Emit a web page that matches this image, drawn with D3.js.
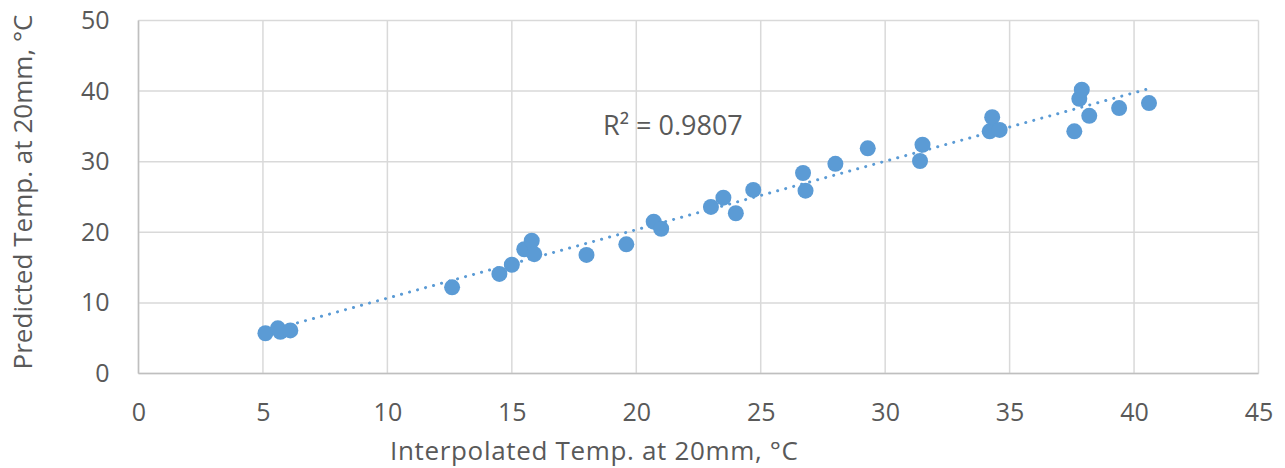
<!DOCTYPE html>
<html><head><meta charset="utf-8">
<script src="https://cdn.jsdelivr.net/npm/d3@7"></script>
<style>body{margin:0;background:#fff;} svg{display:block;}</style>
</head><body>
<svg id="chart" width="1285" height="468"></svg>
<script>
const xValues = [5.1,5.6,5.7,6.1,12.6,14.5,15.0,15.5,15.8,15.9,18.0,19.6,20.7,21.0,23.0,23.5,24.0,24.7,26.7,26.8,28.0,29.3,31.4,31.5,34.2,34.3,34.6,37.6,37.8,37.9,38.2,39.4,40.6];
const yValues = [5.7,6.4,5.9,6.1,12.2,14.1,15.4,17.6,18.8,16.9,16.8,18.3,21.5,20.5,23.6,24.9,22.7,26.0,28.4,25.9,29.7,31.9,30.1,32.4,34.3,36.3,34.5,34.3,38.9,40.2,36.5,37.6,38.3];
const xTicks = [0,5,10,15,20,25,30,35,40,45];
const yTicks = [0,10,20,30,40,50];
const xTitle = "Interpolated Temp. at 20mm, °C";
const yTitle = "Predicted Temp. at 20mm, °C";
const r2Label = "R² = 0.9807";

(function(){
const svg = d3.select("#chart");
const pL = 138.5, pR = 1258.5, pT = 20.5, pB = 373.5;
const x = d3.scaleLinear().domain([0,45]).range([pL,pR]);
const y = d3.scaleLinear().domain([0,50]).range([pB,pT]);
const FONT = "'Open Sans', sans-serif";

svg.append("g").selectAll("line").data(yTicks).join("line")
  .attr("x1",pL).attr("x2",pR).attr("y1",d=>y(d)).attr("y2",d=>y(d))
  .attr("stroke","#d9d9d9").attr("stroke-width",1.5);
svg.append("g").selectAll("line").data(xTicks).join("line")
  .attr("y1",pT).attr("y2",pB).attr("x1",d=>x(d)).attr("x2",d=>x(d))
  .attr("stroke","#d9d9d9").attr("stroke-width",1.5);
svg.append("line").attr("x1",pL).attr("x2",pL).attr("y1",pT).attr("y2",pB).attr("stroke","#bfbfbf").attr("stroke-width",1.5);
svg.append("line").attr("x1",pL).attr("x2",pR).attr("y1",pB).attr("y2",pB).attr("stroke","#bfbfbf").attr("stroke-width",1.5);

const xAxis = svg.append("g").attr("transform",`translate(0,${pB})`)
  .call(d3.axisBottom(x).tickValues(xTicks).tickSize(0).tickPadding(0).tickFormat(d3.format("d")));
xAxis.select(".domain").remove();
xAxis.selectAll("text").attr("dy",null).attr("y",47).attr("font-family",FONT).attr("font-size",25).attr("fill","#595959");

const yAxis = svg.append("g").attr("transform",`translate(${pL},0)`)
  .call(d3.axisLeft(y).tickValues(yTicks).tickSize(0).tickPadding(29).tickFormat(d3.format("d")));
yAxis.select(".domain").remove();
yAxis.selectAll("text").attr("font-family",FONT).attr("font-size",25).attr("fill","#595959");

const n = xValues.length;
const mx = d3.mean(xValues), my = d3.mean(yValues);
let sxy=0, sxx=0;
for(let i=0;i<n;i++){ sxy += (xValues[i]-mx)*(yValues[i]-my); sxx += (xValues[i]-mx)**2; }
const slope = sxy/sxx, icpt = my - slope*mx;
const xmin = d3.min(xValues), xmax = d3.max(xValues);
svg.append("line")
  .attr("x1",x(xmin)).attr("y1",y(icpt+slope*xmin))
  .attr("x2",x(xmax)).attr("y2",y(icpt+slope*xmax))
  .attr("stroke","#5b9bd5").attr("stroke-width",3)
  .attr("stroke-dasharray","0.1,8.2").attr("stroke-linecap","round");

svg.append("g").selectAll("circle").data(xValues.map((v,i)=>[v,yValues[i]])).join("circle")
  .attr("cx",d=>x(d[0])).attr("cy",d=>y(d[1])).attr("r",8).attr("fill","#5b9bd5");

svg.append("text").attr("x",603).attr("y",135).text(r2Label)
  .attr("font-family",FONT).attr("font-size",27).attr("fill","#595959");

svg.append("text").attr("x",594).attr("y",460).attr("text-anchor","middle").text(xTitle)
  .attr("font-family",FONT).attr("font-size",26).attr("fill","#595959")
  .attr("textLength",408).attr("lengthAdjust","spacing");
svg.append("text").attr("transform","translate(32,192) rotate(-90)").attr("text-anchor","middle").text(yTitle)
  .attr("font-family",FONT).attr("font-size",26).attr("fill","#595959")
  .attr("textLength",355).attr("lengthAdjust","spacing");
})();
</script>
</body></html>
